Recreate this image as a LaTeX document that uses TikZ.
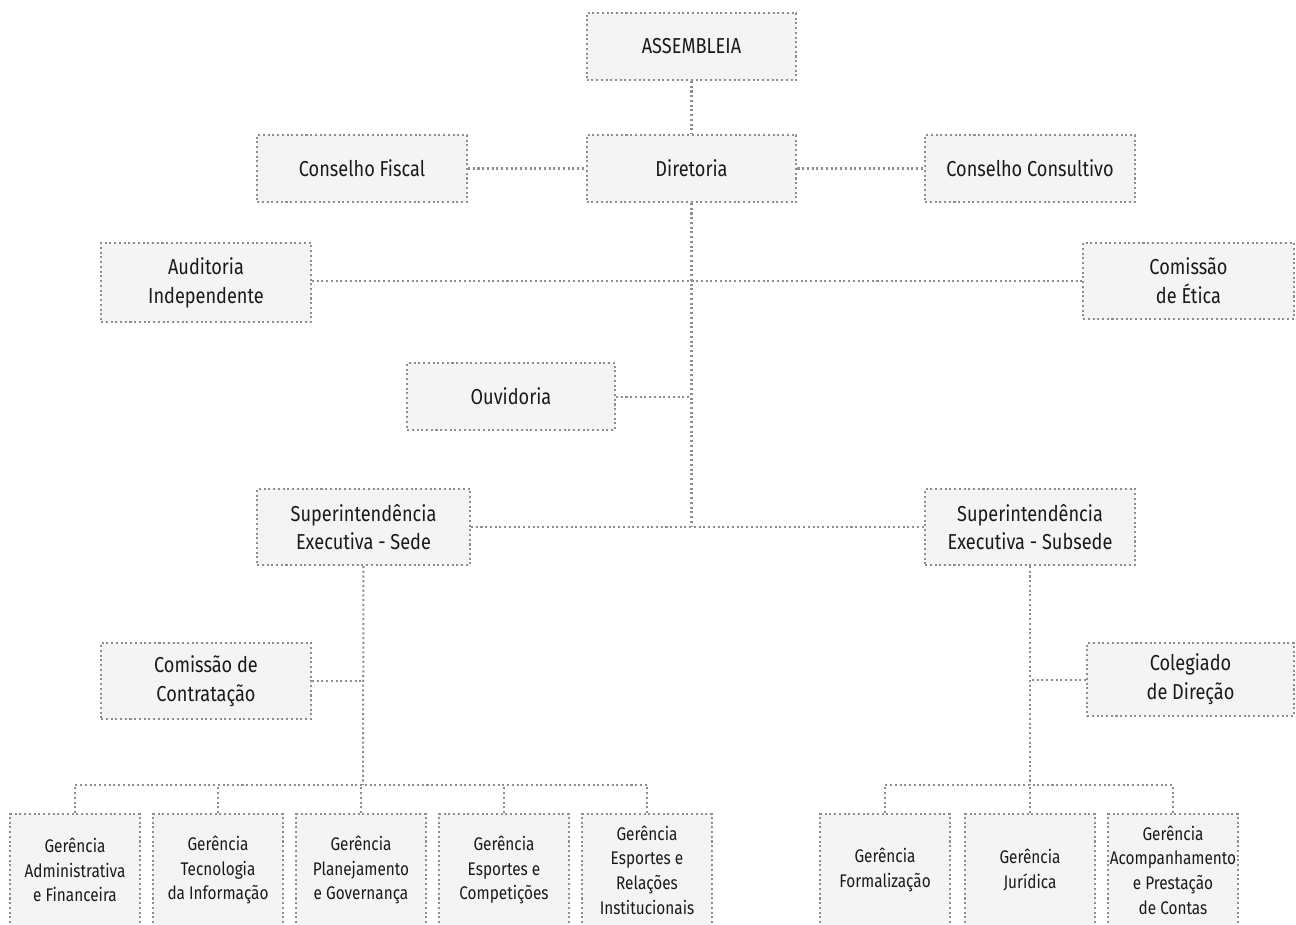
\documentclass[tikz,border=0pt]{standalone}
\usepackage{fontspec}
\setmainfont{Fira Sans}[FakeStretch=0.84]
\definecolor{boxfill}{HTML}{F4F4F4}
\definecolor{dotgray}{HTML}{8E8E8E}
\definecolor{txt}{HTML}{1A1A1A}
\tikzset{
  dots/.style={draw=dotgray, line width=1.15pt, dash pattern=on 1.15pt off 1.55pt},
  box/.style={dots, fill=boxfill, inner sep=0pt, align=center, text=txt,
    rectangle, font=\fontsize{12.3}{16.4}\selectfont},
  wide/.style={box, minimum width=4.2cm, minimum height=1.34cm},
  tall/.style={box, minimum width=4.2cm, minimum height=1.52cm},
  smallbox/.style={box, minimum width=2.6cm, minimum height=2.24cm,
    font=\fontsize{10.4}{14}\selectfont},
  link/.style={dots}
}
\begin{document}
\begin{tikzpicture}[x=0.02cm, y=-0.02cm]
\useasboundingbox (0,0) rectangle (1296,924);
\clip (0,0) rectangle (1296,924);

% governing bodies
\node[wide] (assem) at (691.5,46.5)  {ASSEMBLEIA};
\node[wide] (dir)   at (691.5,168.5) {Diretoria};
\node[wide] (fisc)  at (362,168.5)   {Conselho Fiscal};
\node[wide] (cons)  at (1030,168.5)  {Conselho Consultivo};
\node[tall, minimum height=1.58cm] (aud) at (206,282.5) {Auditoria\\Independente};
\node[tall, minimum width=4.22cm] (etica) at (1188.5,281) {Comissão\\de Ética};
\node[wide, minimum width=4.16cm] (ouv) at (511,396.5) {Ouvidoria};
\node[tall, minimum width=4.26cm] (sede) at (363.5,527) {Superintendência\\Executiva - Sede};
\node[tall] (subs)  at (1030,527)  {Superintendência\\Executiva - Subsede};
\node[tall] (contr) at (206,681)   {Comissão de\\Contratação};
\node[tall, minimum width=4.14cm, minimum height=1.46cm] (coleg) at (1190.5,679.5) {Colegiado\\de Direção};

% management units under the headquarters
\node[smallbox] (g1) at (75,870)  {Gerência\\Administrativa\\e Financeira};
\node[smallbox] (g2) at (218,870) {Gerência\\Tecnologia\\da Informação};
\node[smallbox] (g3) at (361,870) {Gerência\\Planejamento\\e Governança};
\node[smallbox] (g4) at (504,870) {Gerência\\Esportes e\\Competições};
\node[smallbox] (g5) at (647,870) {Gerência\\Esportes e\\Relações\\Institucionais};

% management units under the branch office
\node[smallbox] (r1) at (885,870)  {Gerência\\Formalização};
\node[smallbox] (r2) at (1030,870) {Gerência\\Jurídica};
\node[smallbox] (r3) at (1173,870) {Gerência\\Acompanhamento\\e Prestação\\de Contas};

% junction points on the main trunk
\coordinate (t1) at (691.5,281);
\coordinate (t2) at (691.5,397);
\coordinate (t3) at (691.5,527);
\coordinate (busL) at (363,785);
\coordinate (busR) at (1030,785);

% connectors
\draw[link] (assem) -- (dir);
\draw[link] (fisc) -- (dir);
\draw[link] (dir) -- (cons);
\draw[link] (dir.south) -- (t3);
\draw[link] (aud.east |- t1) -- (t1 -| etica.west);
\draw[link] (ouv.east |- t2) -- (t2);
\draw[link] (sede.east |- t3) -- (t3 -| subs.west);

\draw[link] (sede.south) -- (busL);
\draw[link] (contr.east) -- (contr.east -| busL);
\draw[link] (g1.north) |- (busL) -| (g5.north);
\draw[link] (g2.north) -- (g2.north |- busL);
\draw[link] (g3.north) -- (g3.north |- busL);
\draw[link] (g4.north) -- (g4.north |- busL);

\draw[link] (subs.south) -- (busR);
\draw[link] (coleg.west) -- (coleg.west -| busR);
\draw[link] (r1.north) |- (busR) -| (r3.north);
\draw[link] (r2.north) -- (r2.north |- busR);
\end{tikzpicture}
\end{document}
